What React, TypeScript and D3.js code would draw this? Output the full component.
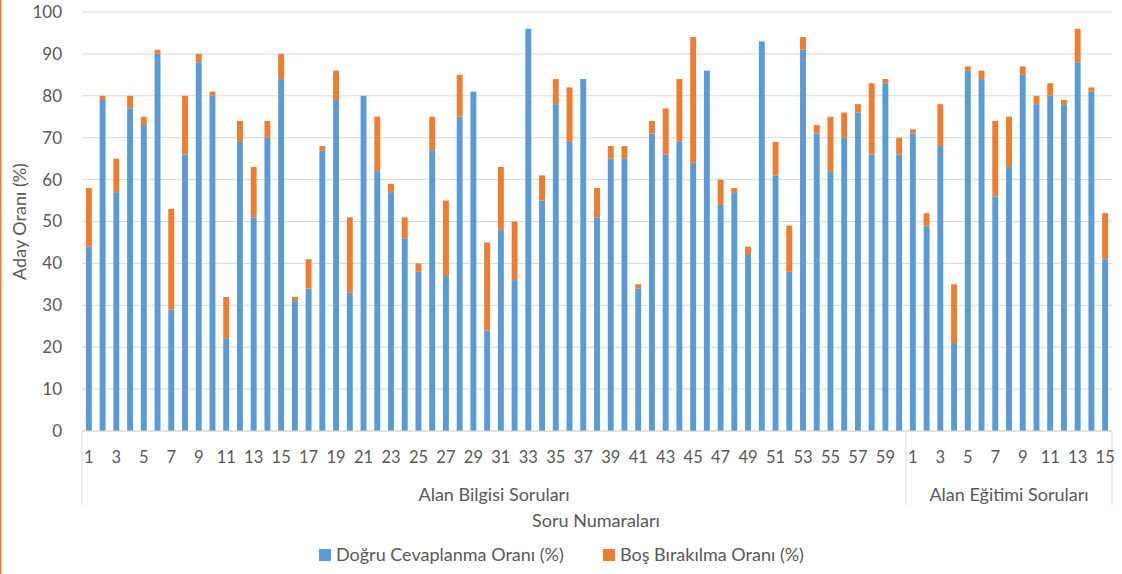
import * as d3 from "d3";
import React from "react";

// Alan Bilgisi Soruları (1-60)
const alanBilgisiDogru = [
    44, 79, 57, 77, 73, 90, 29, 66, 88, 80,
    22, 69, 51, 70, 84, 31, 34, 67, 79, 33,
    80, 62, 57, 46, 38, 67, 37, 75, 81, 24,
    48, 36, 96, 55, 78, 69, 84, 51, 65, 65,
    34, 71, 66, 69, 64, 86, 54, 57, 42, 93,
    61, 38, 91, 71, 62, 70, 76, 66, 83, 66,
];
const alanBilgisiBos = [
    14, 1, 8, 3, 2, 1, 24, 14, 2, 1,
    10, 5, 12, 4, 6, 1, 7, 1, 7, 18,
    0, 13, 2, 5, 2, 8, 18, 10, 0, 21,
    15, 14, 0, 6, 6, 13, 0, 7, 3, 3,
    1, 3, 11, 15, 30, 0, 6, 1, 2, 0,
    8, 11, 3, 2, 13, 6, 2, 17, 1, 4,
];

// Alan Eğitimi Soruları (1-15)
const alanEgitimiDogru = [71, 49, 68, 21, 86, 84, 56, 63, 85, 78, 80, 78, 88, 81, 41];
const alanEgitimiBos = [1, 3, 10, 14, 1, 2, 18, 12, 2, 2, 3, 1, 8, 1, 11];

const groupNames = ["Alan Bilgisi Soruları", "Alan Eğitimi Soruları"];
const seriesNames = ["Doğru Cevaplanma Oranı (%)", "Boş Bırakılma Oranı (%)"];
const yTicks = [0, 10, 20, 30, 40, 50, 60, 70, 80, 90, 100];
const yTitle = "Aday Oranı (%)";
const xTitle = "Soru Numaraları";

const WIDTH = 1122;
const HEIGHT = 574;
const BLUE = "#5B9BD5";
const ORANGE = "#ED7D31";
const TEXT = "#595959";
const GRID = "#d9d9d9";
const FONT = "Lato, 'Open Sans', sans-serif";
const LABEL_SIZE = 18;

interface Row {
    key: string;
    label: number;
    group: number;
    dogru: number;
    bos: number;
}

const rows: Row[] = [
    ...alanBilgisiDogru.map((d, i) => ({
        key: `ab-${i + 1}`,
        label: i + 1,
        group: 0,
        dogru: d,
        bos: alanBilgisiBos[i],
    })),
    ...alanEgitimiDogru.map((d, i) => ({
        key: `ae-${i + 1}`,
        label: i + 1,
        group: 1,
        dogru: d,
        bos: alanEgitimiBos[i],
    })),
];

const App: React.FC = () => {
    const left = 82;
    const right = 1112;
    const top = 12;
    const bottom = 431;

    const x = d3
        .scaleBand<string>()
        .domain(rows.map((r) => r.key))
        .range([left, right])
        .paddingInner(0.57)
        .paddingOuter(0.285);

    const y = d3.scaleLinear().domain([0, 100]).range([bottom, top]);

    const step = x.step();
    const groupEdges = [left, left + alanBilgisiDogru.length * step, right];

    return (
        <div style={{ position: "fixed", left: 0, top: 0 }}>
            <svg width={WIDTH} height={HEIGHT} style={{ display: "block", background: "#fff" }}>
                <rect x={0} y={0} width={1.5} height={HEIGHT} fill={ORANGE} />

                {/* grid */}
                {yTicks.map((t) => (
                    <line key={t} x1={left} x2={right} y1={y(t)} y2={y(t)} stroke={GRID} strokeWidth={1} />
                ))}

                {/* y tick labels */}
                {yTicks.map((t) => (
                    <text
                        key={t}
                        x={62}
                        y={y(t)}
                        dy="0.35em"
                        textAnchor="end"
                        fontFamily={FONT}
                        fontSize={17}
                        fill={TEXT}
                    >
                        {t}
                    </text>
                ))}

                <text
                    transform={`translate(20,${(top + bottom) / 2}) rotate(-90)`}
                    textAnchor="middle"
                    dy="0.35em"
                    fontFamily={FONT}
                    fontSize={LABEL_SIZE}
                    fill={TEXT}
                >
                    {yTitle}
                </text>

                {/* bars */}
                {rows.map((r) => (
                    <g key={r.key}>
                        <rect
                            x={x(r.key)}
                            y={y(r.dogru)}
                            width={x.bandwidth()}
                            height={y(0) - y(r.dogru)}
                            fill={BLUE}
                        />
                        {r.bos > 0 && (
                            <rect
                                x={x(r.key)}
                                y={y(r.dogru + r.bos)}
                                width={x.bandwidth()}
                                height={y(r.dogru) - y(r.dogru + r.bos)}
                                fill={ORANGE}
                            />
                        )}
                    </g>
                ))}

                {/* category axis */}
                <line x1={left} x2={right} y1={bottom} y2={bottom} stroke={GRID} />
                {groupEdges.map((gx, i) => (
                    <line key={i} x1={gx} x2={gx} y1={bottom} y2={505} stroke={GRID} />
                ))}

                {rows
                    .filter((r) => r.label % 2 === 1)
                    .map((r) => (
                        <text
                            key={r.key}
                            x={(x(r.key) as number) + x.bandwidth() / 2}
                            y={457}
                            dy="0.35em"
                            textAnchor="middle"
                            fontFamily={FONT}
                            fontSize={16.5}
                            fill={TEXT}
                        >
                            {r.label}
                        </text>
                    ))}

                {groupNames.map((g, i) => (
                    <text
                        key={g}
                        x={(groupEdges[i] + groupEdges[i + 1]) / 2}
                        y={495}
                        dy="0.35em"
                        textAnchor="middle"
                        fontFamily={FONT}
                        fontSize={LABEL_SIZE}
                        fill={TEXT}
                    >
                        {g}
                    </text>
                ))}

                <text x={596} y={521} dy="0.35em" textAnchor="middle" fontFamily={FONT} fontSize={LABEL_SIZE} fill={TEXT}>
                    {xTitle}
                </text>

                {/* legend */}
                <g>
                    <rect x={319} y={549} width={12} height={12} fill={BLUE} />
                    <text x={336} y={555} dy="0.35em" fontFamily={FONT} fontSize={LABEL_SIZE} fill={TEXT}>
                        {seriesNames[0]}
                    </text>
                    <rect x={603} y={549} width={12} height={12} fill={ORANGE} />
                    <text x={620} y={555} dy="0.35em" fontFamily={FONT} fontSize={LABEL_SIZE} fill={TEXT}>
                        {seriesNames[1]}
                    </text>
                </g>
            </svg>
        </div>
    );
};

export default App;
